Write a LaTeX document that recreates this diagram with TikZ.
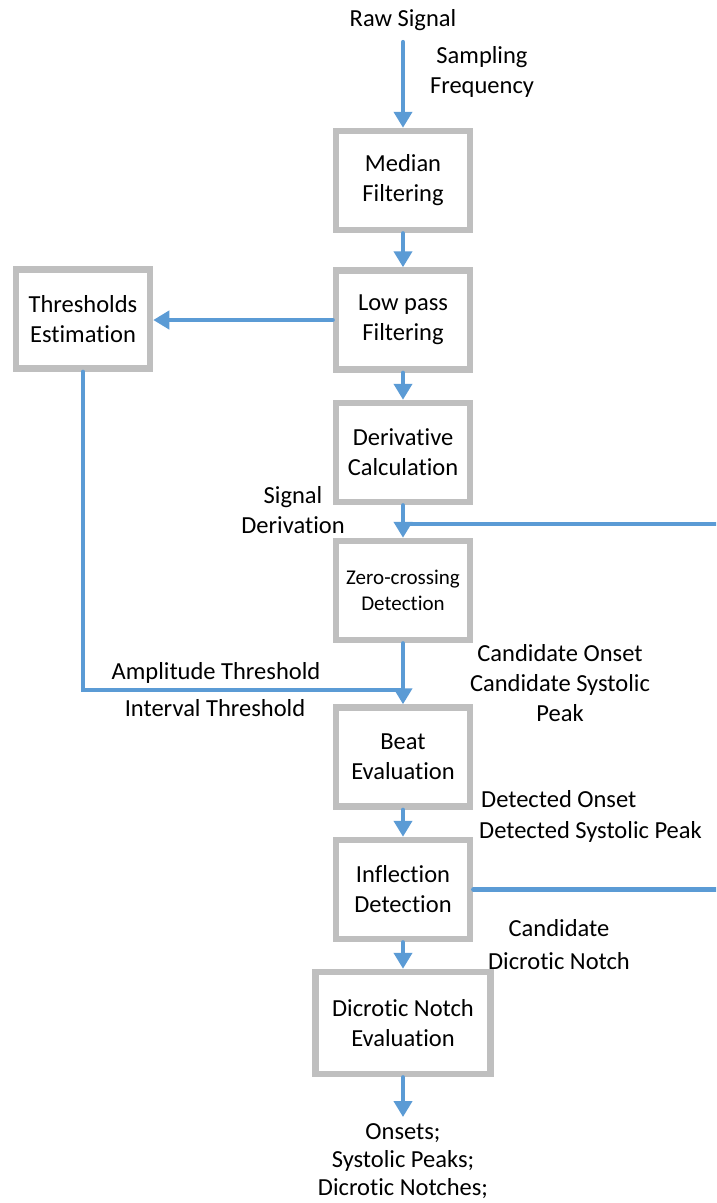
\documentclass[tikz,border=0pt]{standalone}
\usepackage{fontspec}
\setmainfont{Carlito}[Ligatures=NoCommon]
\usetikzlibrary{arrows.meta}
\definecolor{boxgray}{RGB}{191,191,191}
\definecolor{flowblue}{RGB}{91,155,213}
\begin{document}
\begin{tikzpicture}[x=1pt,y=-1pt,
  box/.style={draw=boxgray, line width=6.5pt, fill=white, minimum width=134pt, minimum height=99pt, inner sep=0pt, align=center, font=\fontsize{24.5}{30}\selectfont},
  lbl/.style={inner sep=0pt, align=center, font=\fontsize{24.5}{30}\selectfont},
  flow/.style={draw=flowblue, line width=4.2pt, line cap=round},
  arr/.style={flow, -{Triangle[length=16pt,width=18pt]}}
]
\useasboundingbox (0,0) rectangle (716,1203);
\clip (0,0) rectangle (716,1203);
\fill[white] (0,0) rectangle (716,1203);

% boxes
\node[box] (med) at (403,180.5) {Median\\Filtering};
\node[box] (low) at (403,320) {Low pass\\Filtering};
\node[box] (thr) at (83,319) {Thresholds\\Estimation};
\node[box] (der) at (403,452.5) {Derivative\\Calculation};
\node[box, font=\fontsize{21}{26.5}\selectfont] (zero) at (403,590.5) {Zero-crossing\\Detection};
\node[box] (beat) at (403,757) {Beat\\Evaluation};
\node[box] (inf) at (403,889.5) {Inflection\\Detection};
\node[box, minimum width=175pt, minimum height=102pt] (dic) at (403,1023) {Dicrotic Notch\\Evaluation};

% labels
\node[lbl] (raw) at (403,20) {Raw Signal};
\node[lbl] (samp) at (482,72) {Sampling\\Frequency};
\node[lbl] (sigder) at (293,510) {Signal\\Derivation};
\node[lbl] (amp) at (216,673) {Amplitude Threshold};
\node[lbl] (intv) at (215,708) {Interval Threshold};
\node[lbl] (cand) at (560,683) {Candidate Onset\\Candidate Systolic\\Peak};
\node[lbl, anchor=west] (detO) at (481,799) {Detected Onset};
\node[lbl, anchor=west] (detS) at (479,832) {Detected Systolic Peak};
\node[lbl] (cdn) at (559,944.5) {Candidate\\[3pt]Dicrotic Notch};
\node[lbl, font=\fontsize{24.5}{28}\selectfont] (out) at (403,1161) {Onsets;\\Systolic Peaks;\\Dicrotic Notches;};

% coordinates
\coordinate (rawend) at (403,42);
\coordinate (j1) at (403,690);
\coordinate (j2) at (403,524);
\coordinate (tcorner) at (83,690);
\coordinate (fb1) at (740,889.5);
\coordinate (fb2) at (740,524);
\coordinate (outtip) at (403,1117);

% connectors
\draw[arr] (rawend) -- (med.north);
\draw[arr] (med.south) -- (low.north);
\draw[arr] (low.west) -- (low.west -| thr.east);
\draw[arr] (low.south) -- (der.north);
\draw[arr] (der.south) -- (zero.north);
\draw[arr] (zero.south) -- (beat.north);
\draw[flow] (thr.south) -- (tcorner) -- (j1);
\draw[flow] (inf.east) -- (fb1) -- (fb2) -- (j2);
\draw[arr] (beat.south) -- (inf.north);
\draw[arr] (inf.south) -- (dic.north);
\draw[arr] (dic.south) -- (outtip);
\end{tikzpicture}
\end{document}
